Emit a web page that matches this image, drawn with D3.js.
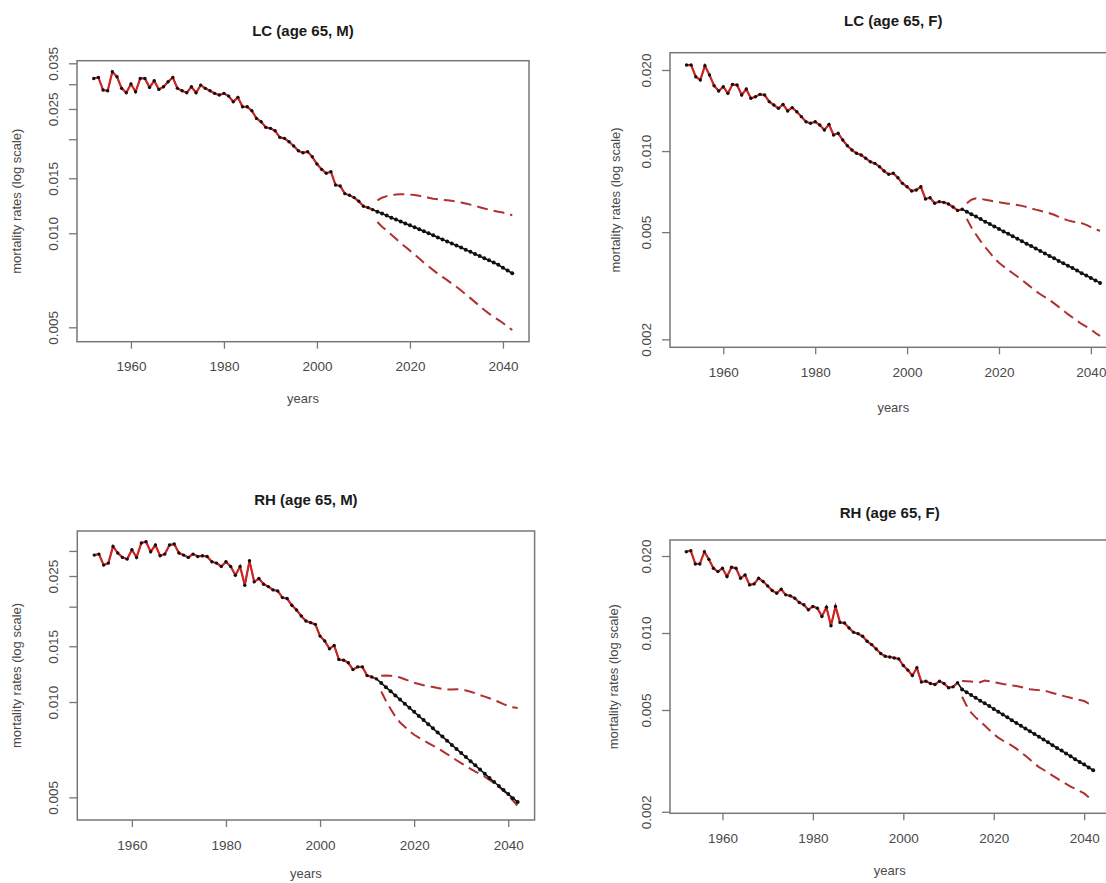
<!DOCTYPE html>
<html>
<head>
<meta charset="utf-8">
<script src="https://cdn.jsdelivr.net/npm/d3@7"></script>
<style>
  body { margin: 0; background: #fff; }
  svg { display: block; font-family: "Liberation Sans", Arial, sans-serif; }
</style>
</head>
<body>
<div id="chart"></div>
<script>
// observed years 1952..2012, forecast years 2013..2042
var histStart = 1952, fcStart = 2013;
var yearTicks = [1960, 1980, 2000, 2020, 2040];

// LC, age 65, males
var lcMObs = [0.0313, 0.03155, 0.02874, 0.02859, 0.03289, 0.0317, 0.0291, 0.02817, 0.03004, 0.02838,
  0.0313, 0.0313, 0.02931, 0.03077, 0.02888, 0.02944, 0.03055, 0.03155, 0.0291, 0.02859,
  0.02817, 0.02944, 0.02817, 0.02981, 0.0291, 0.02859, 0.02804, 0.0277, 0.02804, 0.02749,
  0.02636, 0.02723, 0.0254, 0.0254, 0.02467, 0.02332, 0.02275, 0.02183, 0.02167, 0.02129,
  0.02028, 0.02013, 0.01963, 0.01902, 0.01837, 0.0181, 0.01824, 0.01757, 0.01666, 0.01602,
  0.01556, 0.01574, 0.01427, 0.01417, 0.01339, 0.01323, 0.01301, 0.01266, 0.0122, 0.01208, 0.0119];
var lcMMid = [0.01173, 0.01156, 0.01139, 0.01122, 0.01106, 0.0109, 0.01075, 0.0106, 0.01045, 0.0103,
  0.01015, 0.01, 0.00985, 0.0097, 0.00956, 0.00942, 0.00928, 0.00914, 0.009, 0.00886,
  0.00872, 0.00858, 0.00845, 0.00832, 0.00819, 0.00806, 0.00793, 0.00775, 0.0076, 0.00745];
var lcMHi = [0.01275, 0.013, 0.01315, 0.01325, 0.0133, 0.01333, 0.01333, 0.0133, 0.01325, 0.01318,
  0.0131, 0.013, 0.0129, 0.01285, 0.0128, 0.01275, 0.0127, 0.01262, 0.01255, 0.01245,
  0.01235, 0.01225, 0.01212, 0.012, 0.0119, 0.0118, 0.01172, 0.01165, 0.01155, 0.01142];
var lcMLo = [0.01087, 0.0105, 0.0102, 0.0099, 0.0096, 0.0093, 0.00905, 0.0088, 0.00855, 0.0083,
  0.00805, 0.00783, 0.00762, 0.00742, 0.00725, 0.00708, 0.0069, 0.00674, 0.00656, 0.00638,
  0.0062, 0.00602, 0.00585, 0.00568, 0.00553, 0.0054, 0.00528, 0.00516, 0.00502, 0.0049];

// LC, age 65, females
var lcFObs = [0.02087, 0.02087, 0.01889, 0.01836, 0.02075, 0.01916, 0.01749, 0.01671, 0.01734, 0.01638,
  0.01769, 0.01759, 0.01615, 0.017, 0.0157, 0.01592, 0.01624, 0.01615, 0.01526, 0.01483,
  0.01441, 0.01491, 0.01409, 0.0145, 0.014, 0.01342, 0.01285, 0.01268, 0.01285, 0.0125,
  0.01197, 0.01257, 0.01147, 0.01164, 0.01099, 0.01047, 0.01009, 0.00981, 0.00967, 0.0094,
  0.00913, 0.009, 0.00875, 0.00843, 0.0082, 0.00827, 0.00796, 0.00759, 0.00737, 0.00711,
  0.00717, 0.00737, 0.00664, 0.00671, 0.0064, 0.00649, 0.00645, 0.00636, 0.0062, 0.00602, 0.00608];
var lcFMid = [0.00595, 0.00583, 0.00571, 0.00559, 0.00547, 0.00536, 0.00525, 0.00514, 0.00503, 0.00493,
  0.00483, 0.00473, 0.00463, 0.00453, 0.00444, 0.00435, 0.00426, 0.00417, 0.00408, 0.004,
  0.00391, 0.00383, 0.00375, 0.00368, 0.0036, 0.00352, 0.00345, 0.00338, 0.00331, 0.00324];
var lcFHi = [0.0064, 0.0066, 0.00668, 0.00665, 0.0066, 0.00655, 0.0065, 0.00645, 0.00642, 0.00638,
  0.00635, 0.00631, 0.00626, 0.0062, 0.00613, 0.00606, 0.006, 0.00594, 0.00588, 0.0058,
  0.0057, 0.0056, 0.00553, 0.00548, 0.00544, 0.0054, 0.00532, 0.00522, 0.00512, 0.00506];
var lcFLo = [0.0056, 0.0052, 0.0049, 0.00463, 0.0044, 0.0042, 0.004, 0.00385, 0.00373, 0.00362,
  0.00352, 0.00342, 0.00332, 0.00322, 0.00312, 0.00302, 0.00294, 0.00287, 0.0028, 0.00272,
  0.00264, 0.00256, 0.00248, 0.00241, 0.00234, 0.00228, 0.00223, 0.00218, 0.00211, 0.00206];

// RH, age 65, males
var rhMObs = [0.02911, 0.02932, 0.02706, 0.02746, 0.03101, 0.02954, 0.02862, 0.02827, 0.03026, 0.02862,
  0.03177, 0.03209, 0.02983, 0.03131, 0.02896, 0.02932, 0.03131, 0.03154, 0.02954, 0.02911,
  0.02862, 0.02932, 0.02882, 0.02896, 0.02882, 0.02773, 0.02746, 0.0268, 0.02773, 0.0268,
  0.02515, 0.0268, 0.02338, 0.02793, 0.02396, 0.02455, 0.02355, 0.02315, 0.0226, 0.02243,
  0.02137, 0.02122, 0.02021, 0.01953, 0.01869, 0.01802, 0.01781, 0.01759, 0.01615, 0.01558,
  0.01473, 0.01509, 0.01362, 0.01356, 0.0133, 0.01266, 0.01291, 0.01291, 0.01212, 0.012, 0.01183];
var rhMMid = [0.01148, 0.01114, 0.01081, 0.01049, 0.01018, 0.00988, 0.00959, 0.00931, 0.00903, 0.00877,
  0.00851, 0.00826, 0.00801, 0.00778, 0.00755, 0.00732, 0.00711, 0.0069, 0.0067, 0.0065,
  0.00631, 0.00612, 0.00594, 0.00576, 0.00559, 0.00543, 0.00527, 0.00512, 0.00497, 0.00483];
var rhMHi = [0.0121, 0.01212, 0.0121, 0.01205, 0.01195, 0.0118, 0.01165, 0.0115, 0.0114, 0.0113,
  0.01122, 0.01115, 0.01108, 0.011, 0.01095, 0.01095, 0.01098, 0.01095, 0.01088, 0.01078,
  0.01066, 0.01052, 0.0104, 0.01028, 0.01015, 0.01, 0.00985, 0.00972, 0.00962, 0.00958];
var rhMLo = [0.0108, 0.0101, 0.0095, 0.009, 0.00862, 0.00835, 0.0081, 0.00788, 0.00772, 0.00757,
  0.00742, 0.00728, 0.00715, 0.007, 0.00685, 0.0067, 0.00655, 0.00641, 0.00628, 0.00615,
  0.00603, 0.00592, 0.00581, 0.00568, 0.00555, 0.0054, 0.00525, 0.00508, 0.00488, 0.0047];

// RH, age 65, females
var rhFObs = [0.02079, 0.02098, 0.01862, 0.01862, 0.02079, 0.01941, 0.01791, 0.01738, 0.01791, 0.01662,
  0.01807, 0.01791, 0.01637, 0.01687, 0.01542, 0.01556, 0.01637, 0.01589, 0.01528, 0.01466,
  0.01431, 0.01483, 0.0141, 0.01397, 0.01368, 0.01316, 0.01289, 0.01233, 0.0127, 0.01251,
  0.01161, 0.01262, 0.01068, 0.0127, 0.011, 0.01094, 0.01046, 0.01006, 0.00994, 0.00971,
  0.00928, 0.00901, 0.00866, 0.00831, 0.00811, 0.00806, 0.00799, 0.00792, 0.00746, 0.00716,
  0.00682, 0.00731, 0.00643, 0.00648, 0.00635, 0.00629, 0.00648, 0.00635, 0.00611, 0.00616, 0.00639];
var rhFMid = [0.00602, 0.00587, 0.00572, 0.00558, 0.00544, 0.00531, 0.00518, 0.00505, 0.00492, 0.0048,
  0.00468, 0.00456, 0.00445, 0.00434, 0.00423, 0.00413, 0.00403, 0.00393, 0.00383, 0.00374,
  0.00364, 0.00355, 0.00347, 0.00338, 0.0033, 0.00321, 0.00313, 0.00306, 0.00298, 0.00291];
var rhFHi = [0.00649, 0.00648, 0.00646, 0.00644, 0.00642, 0.00652, 0.00648, 0.00642, 0.00637, 0.00632,
  0.00628, 0.00624, 0.0062, 0.00615, 0.00609, 0.00603, 0.006, 0.00598, 0.00596, 0.0059,
  0.00583, 0.00576, 0.0057, 0.00564, 0.00558, 0.00552, 0.00547, 0.00542, 0.0053, 0.00528];
var rhFLo = [0.00563, 0.0052, 0.00488, 0.00468, 0.0045, 0.00435, 0.00418, 0.00402, 0.0039, 0.0038,
  0.00371, 0.00363, 0.00353, 0.00342, 0.00331, 0.0032, 0.00309, 0.00299, 0.00292, 0.00285,
  0.00277, 0.0027, 0.00263, 0.00257, 0.00251, 0.00246, 0.00241, 0.00236, 0.00228, 0.00221];

var maleTicks = [0.005, 0.010, 0.015, 0.020, 0.025, 0.030, 0.035];
var femaleTicks = [0.002, 0.005, 0.010, 0.020];

var panels = [
  { title: "LC (age 65, M)", obs: lcMObs, mid: lcMMid, hi: lcMHi, lo: lcMLo,
    box: [77, 529, 60.7, 341.7], yDom: [0.004497, 0.03568],
    ticks: maleTicks, labels: [0.005, 0.010, 0.015, 0.025, 0.035],
    titleY: 31, xlabY: 398, ylabX: 16.7 },
  { title: "LC (age 65, F)", obs: lcFObs, mid: lcFMid, hi: lcFHi, lo: lcFLo,
    box: [670, 1116.6, 52.7, 347.3], yDom: [0.001868, 0.02319],
    ticks: femaleTicks, labels: femaleTicks,
    titleY: 21, xlabY: 407, ylabX: 615 },
  { title: "RH (age 65, M)", obs: rhMObs, mid: rhMMid, hi: rhMHi, lo: rhMLo,
    box: [77.3, 534.6, 531, 820], yDom: [0.004241, 0.03468],
    ticks: maleTicks.slice(0, 6), labels: [0.005, 0.010, 0.015, 0.025],
    titleY: 500, xlabY: 873, ylabX: 16.7 },
  { title: "RH (age 65, F)", obs: rhFObs, mid: rhFMid, hi: rhFHi, lo: rhFLo,
    box: [670, 1109.5, 540, 813.3], yDom: [0.001973, 0.0231],
    ticks: femaleTicks, labels: femaleTicks,
    titleY: 513, xlabY: 870, ylabX: 613 }
];

var width = 1106, height = 883;
var svg = d3.select("#chart").append("svg")
    .attr("width", width)
    .attr("height", height);

var txt = "#4a4a4a", frame = "#777";

function series(vals, start) {
    return vals.map(function (v, i) { return { year: start + i, v: v }; });
}

panels.forEach(function (p) {
    var x = d3.scaleLinear().domain([1948.4, 2045.6]).range([p.box[0], p.box[1]]);
    var y = d3.scaleLog().domain(p.yDom).range([p.box[3], p.box[2]]);
    var line = d3.line()
        .x(function (d) { return x(d.year); })
        .y(function (d) { return y(d.v); });

    var g = svg.append("g");
    var obs = series(p.obs, histStart);
    var mid = [obs[obs.length - 1]].concat(series(p.mid, fcStart));

    // x axis
    g.append("g")
        .attr("transform", "translate(0," + p.box[3] + ")")
        .call(d3.axisBottom(x).tickValues(yearTicks).tickSize(7).tickPadding(0).tickFormat(d3.format("d")))
        .call(function (a) {
            a.select(".domain").remove();
            a.selectAll(".tick line").attr("stroke", frame).attr("stroke-width", 1.3);
            a.selectAll(".tick text").attr("fill", txt).attr("font-size", 13.5)
                .attr("y", 25).attr("dy", "0.35em");
        });

    // y axis, labels parallel to the axis
    g.append("g")
        .attr("transform", "translate(" + p.box[0] + ",0)")
        .call(d3.axisLeft(y).tickValues(p.ticks).tickSize(8)
            .tickFormat(function (d) { return p.labels.indexOf(d) >= 0 ? d3.format(".3f")(d) : ""; }))
        .call(function (a) {
            a.select(".domain").remove();
            a.selectAll(".tick line").attr("stroke", frame).attr("stroke-width", 1.3);
            a.selectAll(".tick text").attr("fill", txt).attr("font-size", 13.5)
                .attr("text-anchor", "middle")
                .attr("transform", "rotate(-90)")
                .attr("x", 0).attr("y", -24).attr("dy", "0.35em");
        });

    // frame
    g.append("rect")
        .attr("x", p.box[0]).attr("y", p.box[2])
        .attr("width", p.box[1] - p.box[0]).attr("height", p.box[3] - p.box[2])
        .attr("fill", "none").attr("stroke", frame).attr("stroke-width", 1.5);

    // observed + fitted
    g.append("path").datum(obs).attr("d", line)
        .attr("fill", "none").attr("stroke", "#111").attr("stroke-width", 1.3);
    g.append("path").datum(obs).attr("d", line)
        .attr("fill", "none").attr("stroke", "#d02424").attr("stroke-width", 2.2);
    g.selectAll(".obs").data(obs).enter().append("circle")
        .attr("class", "obs")
        .attr("cx", function (d) { return x(d.year); })
        .attr("cy", function (d) { return y(d.v); })
        .attr("r", 1.7).attr("fill", "#111");

    // forecast intervals
    [p.hi, p.lo].forEach(function (b) {
        g.append("path").datum(series(b, fcStart)).attr("d", line)
            .attr("fill", "none").attr("stroke", "#b03030").attr("stroke-width", 2)
            .attr("stroke-dasharray", "11,6");
    });

    // central forecast
    g.append("path").datum(mid).attr("d", line)
        .attr("fill", "none").attr("stroke", "#111").attr("stroke-width", 1.6);
    g.selectAll(".fc").data(mid.slice(1)).enter().append("circle")
        .attr("class", "fc")
        .attr("cx", function (d) { return x(d.year); })
        .attr("cy", function (d) { return y(d.v); })
        .attr("r", 2).attr("fill", "#111");

    // titles
    var cx = (p.box[0] + p.box[1]) / 2;
    g.append("text").attr("x", cx).attr("y", p.titleY).attr("dy", "0.35em")
        .attr("text-anchor", "middle").attr("font-size", 15).attr("font-weight", "bold")
        .attr("fill", "#1a1a1a").text(p.title);
    g.append("text").attr("x", cx).attr("y", p.xlabY).attr("dy", "0.35em")
        .attr("text-anchor", "middle").attr("font-size", 13).attr("fill", txt).text("years");
    g.append("text")
        .attr("transform", "translate(" + p.ylabX + "," + (p.box[2] + p.box[3]) / 2 + ") rotate(-90)")
        .attr("dy", "0.35em").attr("text-anchor", "middle").attr("font-size", 13).attr("fill", txt)
        .text("mortality rates (log scale)");
});
</script>
</body>
</html>
